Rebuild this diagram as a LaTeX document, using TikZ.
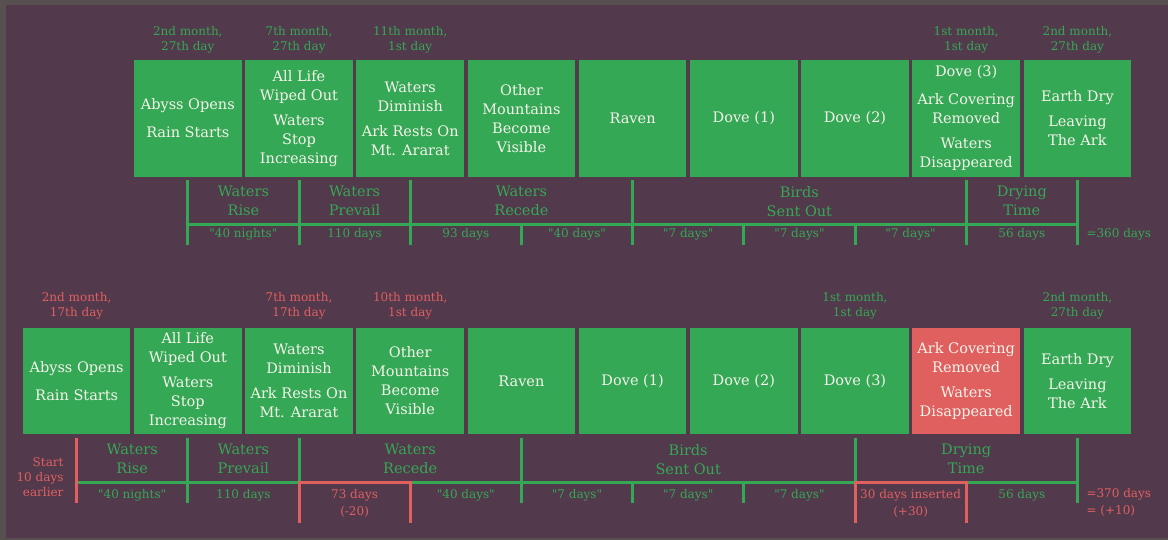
\documentclass[tikz,border=0pt]{standalone}
\usepackage{fontspec}
\setmainfont{DejaVu Serif}
\definecolor{frame}{HTML}{585050}
\definecolor{bg}{HTML}{52394C}
\definecolor{grn}{HTML}{35A855}
\definecolor{rd}{HTML}{E06060}
\definecolor{boxtxt}{HTML}{F4F4EA}
\newcommand{\qd}[1]{\textquotedbl#1\textquotedbl}
\begin{document}
\begin{tikzpicture}[
    x=1pt, y=-1pt,
    box/.style={fill=grn, text=boxtxt, align=center, inner sep=0pt,
      minimum width=107.6pt, minimum height=116.4pt,
      font=\fontsize{14.5}{19}\selectfont},
    lowbox/.style={box, minimum height=106.6pt},
    date/.style={text=grn, align=center, font=\fontsize{12}{15}\selectfont},
    phase/.style={text=grn, align=center, font=\fontsize{14.5}{19}\selectfont},
    span/.style={text=grn, align=center, font=\fontsize{12}{16.5}\selectfont},
    bar/.style={draw=grn, line width=3pt},
    redbar/.style={draw=rd, line width=3pt}
  ]
  \fill[frame] (0,0) rectangle (1168,540);
  \fill[bg] (6,5) rectangle (1168,538);

  % upper timeline: boxes
  \node[box] (a1) at (187.8,118.5) {Abyss Opens\\[9pt]Rain Starts};
  \node[box] (a2) at (299.0,118.5) {All Life\\Wiped Out\\[6pt]Waters\\Stop\\Increasing};
  \node[box] (a3) at (410.2,118.5) {Waters\\Diminish\\[6pt]Ark Rests On\\Mt. Ararat};
  \node[box] (a4) at (521.4,118.5) {Other\\Mountains\\Become\\Visible};
  \node[box] (a5) at (632.6,118.5) {Raven};
  \node[box] (a6) at (743.8,118.5) {Dove (1)};
  \node[box] (a7) at (855.0,118.5) {Dove (2)};
  \node[box] (a8) at (966.2,118.5) {Dove (3)\\[9pt]Ark Covering\\Removed\\[6pt]Waters\\Disappeared};
  \node[box] (a9) at (1077.4,118.5) {Earth Dry\\[6pt]Leaving\\The Ark};

  % upper timeline: dates
  \node[date] (da1) at (187.8,39.5) {2nd month,\\27th day};
  \node[date] (da2) at (299.0,39.5) {7th month,\\27th day};
  \node[date] (da3) at (410.2,39.5) {11th month,\\1st day};
  \node[date] (da8) at (966.2,39.5) {1st month,\\1st day};
  \node[date] (da9) at (1077.4,39.5) {2nd month,\\27th day};

  % upper timeline: bar
  \coordinate (ta1) at (187.8,224.3);
  \coordinate (ta2) at (299.0,224.3);
  \coordinate (ta3) at (410.2,224.3);
  \coordinate (ta4) at (521.4,224.3);
  \coordinate (ta5) at (632.6,224.3);
  \coordinate (ta6) at (743.8,224.3);
  \coordinate (ta7) at (855.0,224.3);
  \coordinate (ta8) at (966.2,224.3);
  \coordinate (ta9) at (1077.4,224.3);
  \draw[bar] (ta1) -- (ta9);
  \draw[bar] ([yshift=44.3pt]ta1) -- ([yshift=-20.7pt]ta1);
  \draw[bar] ([yshift=44.3pt]ta2) -- ([yshift=-20.7pt]ta2);
  \draw[bar] ([yshift=44.3pt]ta3) -- ([yshift=-20.7pt]ta3);
  \draw[bar] (ta4) -- ([yshift=-20.7pt]ta4);
  \draw[bar] ([yshift=44.3pt]ta5) -- ([yshift=-20.7pt]ta5);
  \draw[bar] (ta6) -- ([yshift=-20.7pt]ta6);
  \draw[bar] (ta7) -- ([yshift=-20.7pt]ta7);
  \draw[bar] ([yshift=44.3pt]ta8) -- ([yshift=-20.7pt]ta8);
  \draw[bar] ([yshift=44.3pt]ta9) -- ([yshift=-20.7pt]ta9);

  % upper timeline: phases and spans
  \node[phase] (pa1) at (243.4,201.2) {Waters\\Rise};
  \node[phase] (pa2) at (354.6,201.2) {Waters\\Prevail};
  \node[phase] (pa3) at (521.4,201.2) {Waters\\Recede};
  \node[phase] (pa4) at (799.4,201.2) {Birds\\Sent Out};
  \node[phase] (pa5) at (1021.8,201.2) {Drying\\Time};
  \node[span] (sa1) at (243.4,233.8) {\qd{40 nights}};
  \node[span] (sa2) at (354.6,233.8) {110 days};
  \node[span] (sa3) at (465.8,233.8) {93 days};
  \node[span] (sa4) at (577.0,233.8) {\qd{40 days}};
  \node[span] (sa5) at (688.2,233.8) {\qd{7 days}};
  \node[span] (sa6) at (799.4,233.8) {\qd{7 days}};
  \node[span] (sa7) at (910.6,233.8) {\qd{7 days}};
  \node[span] (sa8) at (1021.8,233.8) {56 days};
  \node[span, anchor=west] (suma) at (1083,233.8) {=360 days};

  % lower timeline: boxes
  \node[lowbox] (b0) at (76.6,381) {Abyss Opens\\[9pt]Rain Starts};
  \node[lowbox] (b1) at (187.8,381) {All Life\\Wiped Out\\[6pt]Waters\\Stop\\Increasing};
  \node[lowbox] (b2) at (299.0,381) {Waters\\Diminish\\[6pt]Ark Rests On\\Mt. Ararat};
  \node[lowbox] (b3) at (410.2,381) {Other\\Mountains\\Become\\Visible};
  \node[lowbox] (b4) at (521.4,381) {Raven};
  \node[lowbox] (b5) at (632.6,381) {Dove (1)};
  \node[lowbox] (b6) at (743.8,381) {Dove (2)};
  \node[lowbox] (b7) at (855.0,381) {Dove (3)};
  \node[lowbox, fill=rd] (b8) at (966.2,381) {Ark Covering\\Removed\\[6pt]Waters\\Disappeared};
  \node[lowbox] (b9) at (1077.4,381) {Earth Dry\\[6pt]Leaving\\The Ark};

  % lower timeline: dates
  \node[date, text=rd] (db0) at (76.6,306) {2nd month,\\17th day};
  \node[date, text=rd] (db2) at (299.0,306) {7th month,\\17th day};
  \node[date, text=rd] (db3) at (410.2,306) {10th month,\\1st day};
  \node[date] (db7) at (855.0,306) {1st month,\\1st day};
  \node[date] (db9) at (1077.4,306) {2nd month,\\27th day};

  % lower timeline: bar
  \coordinate (tb0) at (76.6,482.3);
  \coordinate (tb1) at (187.8,482.3);
  \coordinate (tb2) at (299.0,482.3);
  \coordinate (tb3) at (410.2,482.3);
  \coordinate (tb4) at (521.4,482.3);
  \coordinate (tb5) at (632.6,482.3);
  \coordinate (tb6) at (743.8,482.3);
  \coordinate (tb7) at (855.0,482.3);
  \coordinate (tb8) at (966.2,482.3);
  \coordinate (tb9) at (1077.4,482.3);
  \draw[bar] (tb0) -- (tb2);
  \draw[bar] (tb3) -- (tb7);
  \draw[bar] (tb8) -- (tb9);
  \draw[redbar] ([yshift=44.6pt]tb0) -- ([yshift=-20.4pt]tb0);
  \draw[bar] ([yshift=44.6pt]tb1) -- ([yshift=-20.4pt]tb1);
  \draw[bar] ([yshift=44.6pt]tb2) -- (tb2);
  \draw[bar] ([yshift=44.6pt]tb4) -- ([yshift=-20.4pt]tb4);
  \draw[bar] (tb5) -- ([yshift=-20.4pt]tb5);
  \draw[bar] (tb6) -- ([yshift=-20.4pt]tb6);
  \draw[bar] ([yshift=44.6pt]tb7) -- (tb7);
  \draw[bar] ([yshift=44.6pt]tb9) -- ([yshift=-20.4pt]tb9);
  \draw[redbar] ([yshift=-40.4pt]tb2) -- (tb2) -- (tb3) -- ([yshift=-40.4pt]tb3);
  \draw[redbar] ([yshift=-40.4pt]tb7) -- (tb7) -- (tb8) -- ([yshift=-40.4pt]tb8);

  % lower timeline: phases and spans
  \node[date, text=rd, align=right, anchor=east] (early) at (67,476.7) {Start\\10 days\\earlier};
  \node[phase] (pb1) at (132.2,459.2) {Waters\\Rise};
  \node[phase] (pb2) at (243.4,459.2) {Waters\\Prevail};
  \node[phase] (pb3) at (410.2,459.2) {Waters\\Recede};
  \node[phase] (pb4) at (688.2,459.2) {Birds\\Sent Out};
  \node[phase] (pb5) at (966.2,459.2) {Drying\\Time};
  \node[span] (sb1) at (132.2,495.5) {\qd{40 nights}};
  \node[span] (sb2) at (243.4,495.5) {110 days};
  \node[span, text=rd] (sb3) at (354.6,503.5) {73 days\\(-20)};
  \node[span] (sb4) at (465.8,495.5) {\qd{40 days}};
  \node[span] (sb5) at (577.0,495.5) {\qd{7 days}};
  \node[span] (sb6) at (688.2,495.5) {\qd{7 days}};
  \node[span] (sb7) at (799.4,495.5) {\qd{7 days}};
  \node[span, text=rd] (sb8) at (910.6,503.5) {30 days inserted\\(+30)};
  \node[span] (sb9) at (1021.8,495.5) {56 days};
  \node[span, text=rd, align=left, anchor=west] (sumb) at (1083,502.5) {=370 days\\= (+10)};
\end{tikzpicture}
\end{document}
